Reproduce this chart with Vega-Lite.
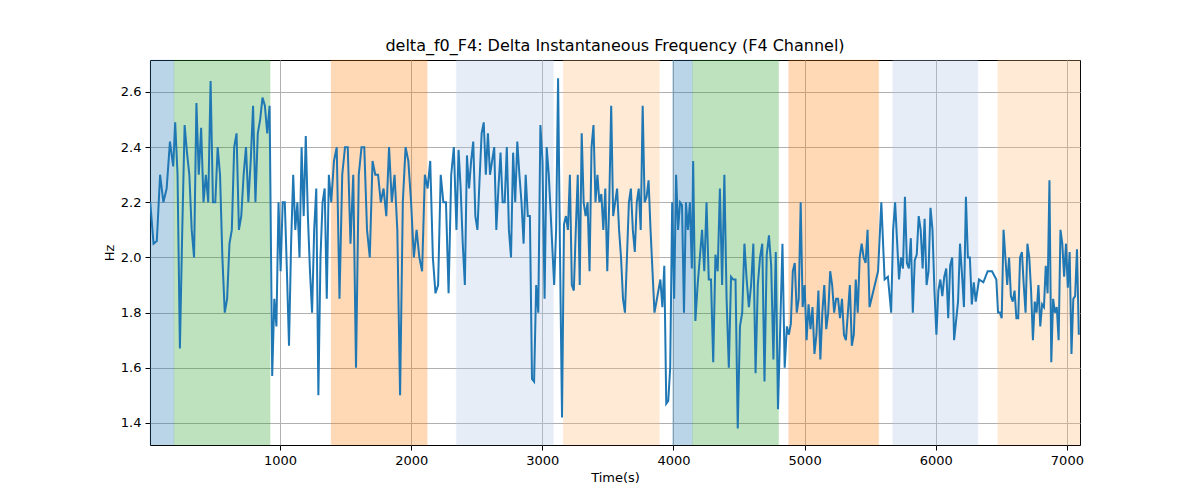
{
  "$schema": "https://vega.github.io/schema/vega-lite/v6.json",
  "width": 930,
  "height": 385,
  "autosize": "none",
  "padding": {"left": 150, "top": 60, "right": 120, "bottom": 55},
  "config": {
    "font": "DejaVu Sans",
    "view": {"stroke": "black", "strokeWidth": 1},
    "axis": {"labelFontSize": 13, "titleFontSize": 13, "titleFontWeight": "normal", "labelColor": "black", "titleColor": "black", "gridColor": "#b0b0b0", "gridWidth": 1, "tickColor": "black", "tickSize": 5, "labelPadding": 4, "domain": false, "labelFont": "DejaVu Sans", "titleFont": "DejaVu Sans"}
  },
  "title": {"text": "delta_f0_F4: Delta Instantaneous Frequency (F4 Channel)", "fontSize": 16, "fontWeight": "normal", "font": "DejaVu Sans", "offset": 6},
  "datasets": {
    "bands": [
      {"s": 8, "e": 191, "c": "a"},
      {"s": 191, "e": 924, "c": "b"},
      {"s": 1389, "e": 2122, "c": "c"},
      {"s": 2344, "e": 3084, "c": "d"},
      {"s": 3160, "e": 3893, "c": "e"},
      {"s": 3992, "e": 4145, "c": "a"},
      {"s": 4145, "e": 4802, "c": "b"},
      {"s": 4878, "e": 5565, "c": "c"},
      {"s": 5672, "e": 6321, "c": "d"},
      {"s": 6473, "e": 7100, "c": "e"}
    ],
    "series": [
      {"t":10,"v":2.2},{"t":35,"v":2.05},{"t":60,"v":2.06},{"t":85,"v":2.3},{"t":110,"v":2.2},{"t":135,"v":2.25},{"t":160,"v":2.42},{"t":185,"v":2.33},
      {"t":200,"v":2.49},{"t":218,"v":2.3},{"t":236,"v":1.67},{"t":254,"v":2.1},{"t":272,"v":2.48},{"t":290,"v":2.38},{"t":308,"v":2.3},{"t":326,"v":2.1},{"t":344,"v":2.0},{"t":362,"v":2.56},{"t":380,"v":2.3},{"t":398,"v":2.47},{"t":416,"v":2.2},{"t":434,"v":2.3},{"t":452,"v":2.2},{"t":470,"v":2.64},{"t":488,"v":2.2},{"t":506,"v":2.2},{"t":524,"v":2.4},{"t":542,"v":2.3},{"t":560,"v":2.0},{"t":578,"v":1.8},{"t":596,"v":1.85},{"t":614,"v":2.05},{"t":632,"v":2.1},{"t":650,"v":2.4},{"t":668,"v":2.45},{"t":686,"v":2.1},{"t":704,"v":2.15},{"t":722,"v":2.3},{"t":740,"v":2.4},{"t":758,"v":2.2},{"t":776,"v":2.35},{"t":794,"v":2.55},{"t":812,"v":2.2},{"t":830,"v":2.45},{"t":848,"v":2.5},{"t":866,"v":2.58},{"t":884,"v":2.55},{"t":902,"v":2.45},{"t":920,"v":2.55},
      {"t":940,"v":1.57},{"t":956,"v":1.85},{"t":972,"v":1.75},{"t":988,"v":2.2},{"t":1004,"v":1.95},{"t":1020,"v":2.2},{"t":1036,"v":2.2},{"t":1052,"v":1.95},{"t":1068,"v":1.68},{"t":1084,"v":2.05},{"t":1100,"v":2.3},{"t":1116,"v":2.1},{"t":1132,"v":2.2},{"t":1148,"v":2.0},{"t":1164,"v":2.4},{"t":1180,"v":2.15},{"t":1196,"v":2.44},{"t":1212,"v":2.15},{"t":1228,"v":1.95},{"t":1244,"v":1.8},{"t":1260,"v":2.1},{"t":1276,"v":2.25},{"t":1292,"v":1.5},{"t":1308,"v":2.0},{"t":1324,"v":2.2},{"t":1340,"v":2.25},{"t":1356,"v":1.85},{"t":1372,"v":2.3},
      {"t":1390,"v":2.2},{"t":1411,"v":2.35},{"t":1432,"v":2.4},{"t":1453,"v":1.85},{"t":1474,"v":2.3},{"t":1495,"v":2.4},{"t":1516,"v":2.4},{"t":1537,"v":2.05},{"t":1558,"v":2.3},{"t":1579,"v":1.6},{"t":1600,"v":2.3},{"t":1621,"v":2.4},{"t":1642,"v":2.4},{"t":1663,"v":2.1},{"t":1684,"v":2.0},{"t":1705,"v":2.35},{"t":1726,"v":2.3},{"t":1747,"v":2.3},{"t":1768,"v":2.2},{"t":1789,"v":2.25},{"t":1810,"v":2.15},{"t":1831,"v":2.4},{"t":1852,"v":2.2},{"t":1873,"v":2.3},{"t":1894,"v":2.1},{"t":1915,"v":1.5},{"t":1936,"v":2.2},{"t":1957,"v":2.4},{"t":1978,"v":2.35},{"t":1999,"v":2.2},{"t":2020,"v":2.0},{"t":2041,"v":2.1},{"t":2062,"v":2.0},{"t":2083,"v":1.95},{"t":2104,"v":2.3},
      {"t":2125,"v":2.25},{"t":2145,"v":2.35},{"t":2165,"v":2.0},{"t":2185,"v":1.87},{"t":2205,"v":1.9},{"t":2225,"v":2.3},{"t":2245,"v":2.2},{"t":2265,"v":2.2},{"t":2285,"v":1.87},{"t":2305,"v":2.3},{"t":2325,"v":2.4},
      {"t":2345,"v":2.1},{"t":2361,"v":2.39},{"t":2377,"v":2.25},{"t":2393,"v":2.05},{"t":2409,"v":1.9},{"t":2425,"v":2.37},{"t":2441,"v":2.25},{"t":2457,"v":2.35},{"t":2473,"v":2.42},{"t":2489,"v":2.15},{"t":2505,"v":2.1},{"t":2521,"v":2.28},{"t":2537,"v":2.45},{"t":2553,"v":2.49},{"t":2569,"v":2.3},{"t":2585,"v":2.45},{"t":2601,"v":2.3},{"t":2617,"v":2.35},{"t":2633,"v":2.4},{"t":2649,"v":2.1},{"t":2665,"v":2.25},{"t":2681,"v":2.38},{"t":2697,"v":2.2},{"t":2713,"v":2.2},{"t":2729,"v":2.4},{"t":2745,"v":2.1},{"t":2761,"v":2.0},{"t":2777,"v":2.38},{"t":2793,"v":2.2},{"t":2809,"v":2.42},{"t":2825,"v":2.3},{"t":2841,"v":2.2},{"t":2857,"v":2.05},{"t":2873,"v":2.3},{"t":2889,"v":2.15},{"t":2905,"v":2.15},{"t":2921,"v":1.56},{"t":2937,"v":1.55},{"t":2953,"v":1.9},{"t":2969,"v":1.8},{"t":2985,"v":2.48},{"t":3001,"v":2.35},{"t":3017,"v":1.85},{"t":3033,"v":2.4},{"t":3049,"v":2.3},
      {"t":3090,"v":1.9},{"t":3105,"v":2.1},{"t":3120,"v":2.65},{"t":3135,"v":2.0},{"t":3150,"v":1.42},
      {"t":3165,"v":2.12},{"t":3180,"v":2.15},{"t":3195,"v":2.1},{"t":3210,"v":2.3},{"t":3225,"v":1.9},{"t":3240,"v":1.88},{"t":3255,"v":2.1},{"t":3270,"v":2.3},{"t":3285,"v":1.9},{"t":3300,"v":2.45},{"t":3315,"v":2.2},{"t":3330,"v":2.15},{"t":3345,"v":2.2},{"t":3360,"v":1.95},{"t":3375,"v":2.4},{"t":3390,"v":2.48},{"t":3405,"v":2.2},{"t":3420,"v":2.3},{"t":3435,"v":2.2},{"t":3450,"v":2.23},{"t":3465,"v":2.1},{"t":3480,"v":2.25},{"t":3495,"v":1.95},{"t":3510,"v":2.2},{"t":3525,"v":2.55},{"t":3540,"v":2.15},{"t":3555,"v":2.2},{"t":3570,"v":2.25},{"t":3585,"v":2.1},{"t":3600,"v":2.0},{"t":3615,"v":1.85},{"t":3630,"v":1.8},{"t":3645,"v":2.0},{"t":3660,"v":2.2},{"t":3675,"v":2.25},{"t":3690,"v":2.1},{"t":3705,"v":2.02},{"t":3720,"v":2.2},{"t":3735,"v":2.25},{"t":3750,"v":2.1},{"t":3765,"v":2.55},{"t":3780,"v":2.2},{"t":3795,"v":2.22},{"t":3810,"v":2.28},{"t":3825,"v":2.1},{"t":3840,"v":1.95},{"t":3855,"v":1.8},
      {"t":3900,"v":1.92},{"t":3915,"v":1.82},{"t":3930,"v":1.97},{"t":3945,"v":1.47},{"t":3960,"v":1.48},{"t":3975,"v":1.6},{"t":3990,"v":2.2},{"t":4005,"v":1.85},{"t":4020,"v":2.3},{"t":4035,"v":2.1},{"t":4050,"v":2.2},{"t":4065,"v":2.19},{"t":4080,"v":1.8},{"t":4095,"v":2.2},{"t":4110,"v":2.1},{"t":4125,"v":2.2},{"t":4140,"v":1.96},
      {"t":4150,"v":2.35},{"t":4167,"v":1.77},{"t":4184,"v":1.9},{"t":4201,"v":2.0},{"t":4218,"v":2.1},{"t":4235,"v":1.95},{"t":4252,"v":2.2},{"t":4269,"v":1.92},{"t":4286,"v":1.92},{"t":4303,"v":1.62},{"t":4320,"v":2.01},{"t":4337,"v":1.95},{"t":4354,"v":2.25},{"t":4371,"v":1.9},{"t":4388,"v":2.3},{"t":4405,"v":1.85},{"t":4422,"v":1.6},{"t":4439,"v":1.93},{"t":4456,"v":1.92},{"t":4473,"v":1.92},{"t":4490,"v":1.38},{"t":4507,"v":1.75},{"t":4524,"v":1.8},{"t":4541,"v":2.05},{"t":4558,"v":1.92},{"t":4575,"v":1.82},{"t":4592,"v":1.9},{"t":4609,"v":2.05},{"t":4626,"v":1.58},{"t":4643,"v":1.9},{"t":4660,"v":2.0},{"t":4677,"v":2.05},{"t":4694,"v":1.55},{"t":4711,"v":2.01},{"t":4728,"v":2.08},{"t":4745,"v":1.97},{"t":4762,"v":1.63},
      {"t":4780,"v":2.02},{"t":4797,"v":1.45},{"t":4814,"v":1.75},{"t":4831,"v":2.05},{"t":4848,"v":1.6},
      {"t":4865,"v":1.75},{"t":4880,"v":1.72},{"t":4895,"v":1.76},{"t":4910,"v":1.95},{"t":4925,"v":1.98},{"t":4940,"v":1.8},{"t":4955,"v":1.85},{"t":4970,"v":2.2},{"t":4985,"v":1.82},{"t":5000,"v":1.9},{"t":5015,"v":1.7},{"t":5030,"v":1.83},{"t":5045,"v":1.74},{"t":5060,"v":1.82},{"t":5075,"v":1.65},{"t":5090,"v":1.72},{"t":5105,"v":1.88},{"t":5120,"v":1.63},{"t":5135,"v":1.8},{"t":5150,"v":1.9},{"t":5165,"v":1.74},{"t":5180,"v":1.8},{"t":5195,"v":1.95},{"t":5210,"v":1.9},{"t":5225,"v":1.8},{"t":5240,"v":1.85},{"t":5255,"v":1.85},{"t":5270,"v":1.78},{"t":5285,"v":1.85},{"t":5300,"v":1.72},{"t":5315,"v":1.7},{"t":5330,"v":1.8},{"t":5345,"v":1.9},{"t":5360,"v":1.68},{"t":5375,"v":1.72},{"t":5390,"v":1.92},{"t":5405,"v":1.8},{"t":5420,"v":2.0},{"t":5435,"v":2.05},{"t":5450,"v":2.0},{"t":5465,"v":1.98},{"t":5480,"v":2.1},{"t":5495,"v":1.82},{"t":5510,"v":1.85},
      {"t":5560,"v":1.95},{"t":5585,"v":2.2},{"t":5610,"v":1.92},{"t":5635,"v":1.93},{"t":5660,"v":1.8},
      {"t":5675,"v":2.1},{"t":5690,"v":2.2},{"t":5705,"v":2.06},{"t":5720,"v":1.92},{"t":5735,"v":2.0},{"t":5750,"v":1.96},{"t":5765,"v":2.22},{"t":5780,"v":1.98},{"t":5795,"v":1.96},{"t":5810,"v":2.07},{"t":5825,"v":1.8},{"t":5840,"v":1.99},{"t":5855,"v":2.01},{"t":5870,"v":2.15},{"t":5885,"v":2.1},{"t":5900,"v":1.96},{"t":5915,"v":2.14},{"t":5930,"v":1.9},{"t":5945,"v":1.95},{"t":5960,"v":2.18},{"t":5975,"v":2.1},{"t":5990,"v":1.88},{"t":6005,"v":1.72},{"t":6020,"v":1.88},{"t":6035,"v":1.92},{"t":6050,"v":1.86},{"t":6065,"v":1.93},{"t":6080,"v":1.96},{"t":6095,"v":1.78},{"t":6110,"v":1.97},{"t":6125,"v":2.0},{"t":6140,"v":1.7},{"t":6155,"v":1.77},{"t":6170,"v":1.84},{"t":6185,"v":2.05},{"t":6200,"v":1.94},{"t":6215,"v":1.82},{"t":6230,"v":2.22},{"t":6245,"v":2.0},{"t":6260,"v":2.0},{"t":6275,"v":1.83},{"t":6290,"v":1.91},{"t":6305,"v":1.84},
      {"t":6330,"v":1.92},{"t":6363,"v":1.91},{"t":6396,"v":1.95},{"t":6429,"v":1.95},{"t":6462,"v":1.92},
      {"t":6475,"v":1.8},{"t":6489,"v":1.8},{"t":6503,"v":1.78},{"t":6517,"v":2.1},{"t":6531,"v":2.0},{"t":6545,"v":1.9},{"t":6559,"v":2.0},{"t":6573,"v":1.86},{"t":6587,"v":1.84},{"t":6601,"v":1.88},{"t":6615,"v":1.78},{"t":6629,"v":1.78},{"t":6643,"v":2.0},{"t":6657,"v":2.02},{"t":6671,"v":1.9},{"t":6685,"v":1.8},{"t":6699,"v":2.05},{"t":6713,"v":2.0},{"t":6727,"v":1.88},{"t":6741,"v":1.7},{"t":6755,"v":1.84},{"t":6769,"v":1.8},{"t":6783,"v":1.9},{"t":6797,"v":1.75},{"t":6811,"v":1.83},{"t":6825,"v":1.82},{"t":6839,"v":1.97},{"t":6853,"v":1.87},{"t":6867,"v":2.28},{"t":6881,"v":1.62},{"t":6895,"v":1.85},{"t":6909,"v":1.8},{"t":6923,"v":1.82},{"t":6937,"v":1.7},{"t":6951,"v":2.1},{"t":6965,"v":2.05},{"t":6979,"v":1.93},{"t":6993,"v":2.05},{"t":7007,"v":1.89},{"t":7021,"v":2.02},{"t":7035,"v":1.65},{"t":7049,"v":1.85},{"t":7063,"v":1.86},{"t":7077,"v":2.03},{"t":7091,"v":1.72}
    ]
  },
  "layer": [
    {
      "data": {"name": "bands"},
      "mark": {"type": "rect", "opacity": 0.3, "strokeWidth": 1, "strokeOpacity": 0.35},
      "encoding": {
        "x": {"field": "s", "type": "quantitative", "scale": {"domain": [8, 7100], "nice": false, "zero": false}, "axis": {"title": "Time(s)", "values": [1000, 2000, 3000, 4000, 5000, 6000, 7000], "format": "d", "grid": true, "zindex": 0}},
        "x2": {"field": "e"},
        "color": {"field": "c", "type": "nominal", "legend": null, "scale": {"domain": ["a", "b", "c", "d", "e"], "range": ["#1f77b4", "#2ca02c", "#ff7f0e", "#aec7e8", "#ffbb78"]}},
        "stroke": {"field": "c", "type": "nominal", "legend": null, "scale": {"domain": ["a", "b", "c", "d", "e"], "range": ["#1f77b4", "#2ca02c", "#ff7f0e", "#aec7e8", "#ffbb78"]}}
      }
    },
    {
      "data": {"name": "series"},
      "mark": {"type": "line", "color": "#1f77b4", "strokeWidth": 2, "clip": true},
      "encoding": {
        "x": {"field": "t", "type": "quantitative"},
        "y": {"field": "v", "type": "quantitative", "scale": {"domain": [1.32, 2.716], "nice": false, "zero": false}, "axis": {"title": "Hz", "values": [1.4, 1.6, 1.8, 2.0, 2.2, 2.4, 2.6], "format": ".1f", "grid": true}}
      }
    }
  ]
}
